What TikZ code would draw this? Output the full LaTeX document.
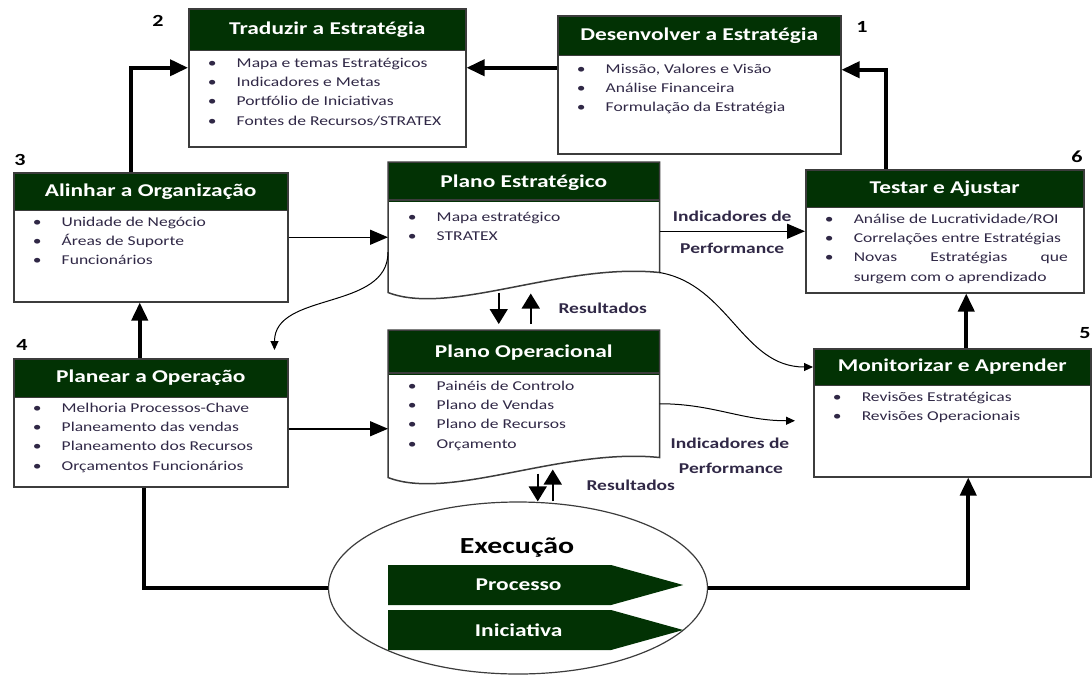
\documentclass[tikz,border=0pt]{standalone}
\usepackage{fontspec}
\setmainfont{Carlito}[FakeStretch=1.3]
\usetikzlibrary{shapes.multipart,shapes.geometric,shapes.symbols,arrows.meta,positioning}
\definecolor{verde}{RGB}{2,50,4}
\definecolor{borda}{RGB}{60,60,60}
\definecolor{texto}{RGB}{48,40,70}
\newcommand{\titulo}{\color{white}\bfseries\fontsize{18}{20}\selectfont}
\newcommand{\ponto}[1]{\hspace*{19pt}\makebox[29pt][l]{\textbullet}#1\par}

\begin{document}
\begin{tikzpicture}[x=1pt, y=-1pt,
  etapa/.style={rectangle split, rectangle split parts=2, draw=borda, line width=1.5pt,
    rectangle split part fill={verde,white}, inner sep=0pt, anchor=north west,
    font=\fontsize{13.5}{19.3}\selectfont, text=texto},
  plano/.style={etapa, draw=none},
  contorno/.style={draw=borda, line width=1.5pt},
  grossa/.style={line width=3.8pt, -{Triangle[length=18pt,width=16pt]}},
  fina/.style={line width=1.5pt, -{Triangle[length=18pt,width=15pt]}},
  curta/.style={line width=1.5pt, -{Triangle[length=15pt,width=18pt]}},
  curva/.style={line width=1pt, -{Triangle[length=9pt,width=8pt]}},
  numero/.style={font=\bfseries\fontsize{17}{17}\selectfont, inner sep=0pt},
  rotulo/.style={font=\bfseries\fontsize{15}{15}\selectfont, text=texto, inner sep=1pt},
  seta/.style={signal, signal to=east, signal pointer angle=31, fill=verde,
    minimum width=295pt, minimum height=40pt, inner sep=0pt, anchor=west,
    text=white, font=\bfseries\fontsize{18}{18}\selectfont}]

  \useasboundingbox (0,0) rectangle (1092,678);

  % etapas do ciclo
  \node[etapa] (traduzir) at (188,8) {
    \nodepart{one}\parbox[c][40pt]{277pt}{\centering\titulo Traduzir a Estratégia}
    \nodepart{two}\parbox[t][95pt][t]{277pt}{\vspace*{7pt}\ponto{Mapa e temas Estratégicos}\ponto{Indicadores e Metas}\ponto{Portfólio de Iniciativas}\ponto{Fontes de Recursos/STRATEX}}
  };
  \node[numero] (n2) at (158,21) {2};

  \node[etapa] (desenvolver) at (557,15) {
    \nodepart{one}\parbox[c][38pt]{283pt}{\centering\titulo Desenvolver a Estratégia}
    \nodepart{two}\parbox[t][97pt][t]{283pt}{\vspace*{8pt}\ponto{Missão, Valores e Visão}\ponto{Análise Financeira}\ponto{Formulação da Estratégia}}
  };
  \node[numero] (n1) at (862,27) {1};

  \node[etapa] (alinhar) at (13,172) {
    \nodepart{one}\parbox[c][36pt]{274pt}{\centering\titulo Alinhar a Organização}
    \nodepart{two}\parbox[t][90pt][t]{274pt}{\vspace*{6pt}\ponto{Unidade de Negócio}\ponto{Áreas de Suporte}\ponto{Funcionários}}
  };
  \node[numero] (n3) at (20,160) {3};

  \node[etapa] (planear) at (13,358) {
    \nodepart{one}\parbox[c][37pt]{274pt}{\centering\titulo Planear a Operação}
    \nodepart{two}\parbox[t][88pt][t]{274pt}{\vspace*{5pt}\ponto{Melhoria Processos-Chave}\ponto{Planeamento das vendas}\ponto{Planeamento dos Recursos}\ponto{Orçamentos Funcionários}}
  };
  \node[numero] (n4) at (22,345) {4};

  \node[etapa] (testar) at (805,169) {
    \nodepart{one}\parbox[c][36pt]{278pt}{\centering\titulo Testar e Ajustar}
    \nodepart{two}\parbox[t][84pt][t]{278pt}{\vspace*{6pt}\ponto{Análise de Lucratividade/ROI}\ponto{Correlações entre Estratégias}\ponto{\makebox[214pt][s]{Novas Estratégias que}}\hspace*{48pt}surgem com o aprendizado\par}
  };
  \node[numero] (n6) at (1077,157) {6};

  \node[etapa] (monitorizar) at (813,348) {
    \nodepart{one}\parbox[c][35pt]{277pt}{\centering\titulo Monitorizar e Aprender}
    \nodepart{two}\parbox[t][90pt][t]{277pt}{\vspace*{6pt}\ponto{Revisões Estratégicas}\ponto{Revisões Operacionais}}
  };
  \node[numero] (n5) at (1085,333) {5};

  % planos (documentos)
  \node[plano] (pe) at (388,162) {
    \nodepart{one}\parbox[c][38pt]{270pt}{\centering\titulo Plano Estratégico}
    \nodepart{two}\parbox[t][88pt][t]{270pt}{\vspace*{9pt}\ponto{Mapa estratégico}\ponto{STRATEX}}
  };
  \draw[contorno] (pe.north west) -- (pe.north east) -- ([yshift=20pt]pe.south east)
    .. controls ([shift={(-98,-30)}]pe.south east) and ([shift={(62,24)}]pe.south west) .. (pe.south west) -- cycle;
  \draw[contorno] ([yshift=-38pt]pe.north west) -- ([yshift=-38pt]pe.north east);

  \node[plano] (po) at (388,330) {
    \nodepart{one}\parbox[c][43pt]{270pt}{\centering\titulo Plano Operacional}
    \nodepart{two}\parbox[t][100pt][t]{270pt}{\vspace*{5pt}\ponto{Painéis de Controlo}\ponto{Plano de Vendas}\ponto{Plano de Recursos}\ponto{Orçamento}}
  };
  \draw[contorno] (po.north west) -- (po.north east) -- ([yshift=20pt]po.south east)
    .. controls ([shift={(-98,-30)}]po.south east) and ([shift={(62,24)}]po.south west) .. (po.south west) -- cycle;
  \draw[contorno] ([yshift=-43pt]po.north west) -- ([yshift=-43pt]po.north east);

  % execucao
  \node[draw=borda, line width=1.2pt, ellipse, minimum width=379pt, minimum height=172pt, inner sep=0pt] (execucao) at (518,588) {};
  \node[font=\bfseries\fontsize{23}{23}\selectfont] (titExec) at (517,548) {Execução};
  \node[seta] (processo) at (388,585) {\hspace*{38pt}Processo};
  \node[seta] (iniciativa) at (388,630) {\hspace*{38pt}Iniciativa};

  % ciclo exterior
  \draw[grossa] ([yshift=17pt]desenvolver.west) -- ([yshift=17pt]desenvolver.west -| traduzir.east);
  \draw[grossa] ([xshift=-59pt]testar.north) |- ([yshift=15pt]desenvolver.east);
  \draw[grossa] ([xshift=-20pt]alinhar.north) |- ([yshift=10pt]traduzir.west);
  \draw[grossa] ([xshift=-11pt]planear.north) -- ([xshift=-11pt]alinhar.south);
  \draw[grossa, -] ([xshift=-7pt]planear.south) |- (execucao.west);
  \draw[grossa] (execucao.east) -| ([xshift=16pt]monitorizar.south);
  \draw[grossa] ([xshift=14pt]monitorizar.north) -- ([xshift=14pt]monitorizar.north |- testar.south);

  % ligacoes aos planos
  \draw[fina] (alinhar.east) -- (alinhar.east -| pe.west);
  \draw[fina] ([yshift=-6pt]planear.east) -- ([yshift=-6pt]planear.east -| po.west);
  \draw[fina] (testar.west -| pe.east) -- node[rotulo, above=8pt] (ind1) {Indicadores de}
    node[rotulo, below=10pt] (perf1) {Performance} (testar.west);
  \draw[curta] ([xshift=-25pt]pe.south) -- ([xshift=-25pt, yshift=6pt]po.north);
  \draw[curta] ([xshift=7pt, yshift=6pt]po.north) -- node[rotulo, right=26pt] (res1) {Resultados} ([xshift=7pt, yshift=-1pt]pe.south);
  \draw[curta] ([xshift=14pt, yshift=4pt]po.south) -- ([xshift=14pt]po.south |- execucao.north);
  \draw[curta] ([xshift=29pt]po.south |- execucao.north) -- node[rotulo, right=32pt] (res2) {Resultados} ([xshift=29pt, yshift=8pt]po.south);

  \draw[curva] ([yshift=20pt]pe.south east) to[out=-10, in=180] ([yshift=-19pt]monitorizar.north west);
  \draw[curva] ([yshift=-25pt]pe.west) to[out=-90, in=90] ([shift={(-14,-8)}]planear.north east);
  \draw[curva] (po.east) to[out=0, in=180] ([shift={(-18,8)}]monitorizar.west);
  \node[rotulo] (ind2) at (730,443) {Indicadores de};
  \node[rotulo] (perf2) at (731,468) {Performance};

\end{tikzpicture}
\end{document}
